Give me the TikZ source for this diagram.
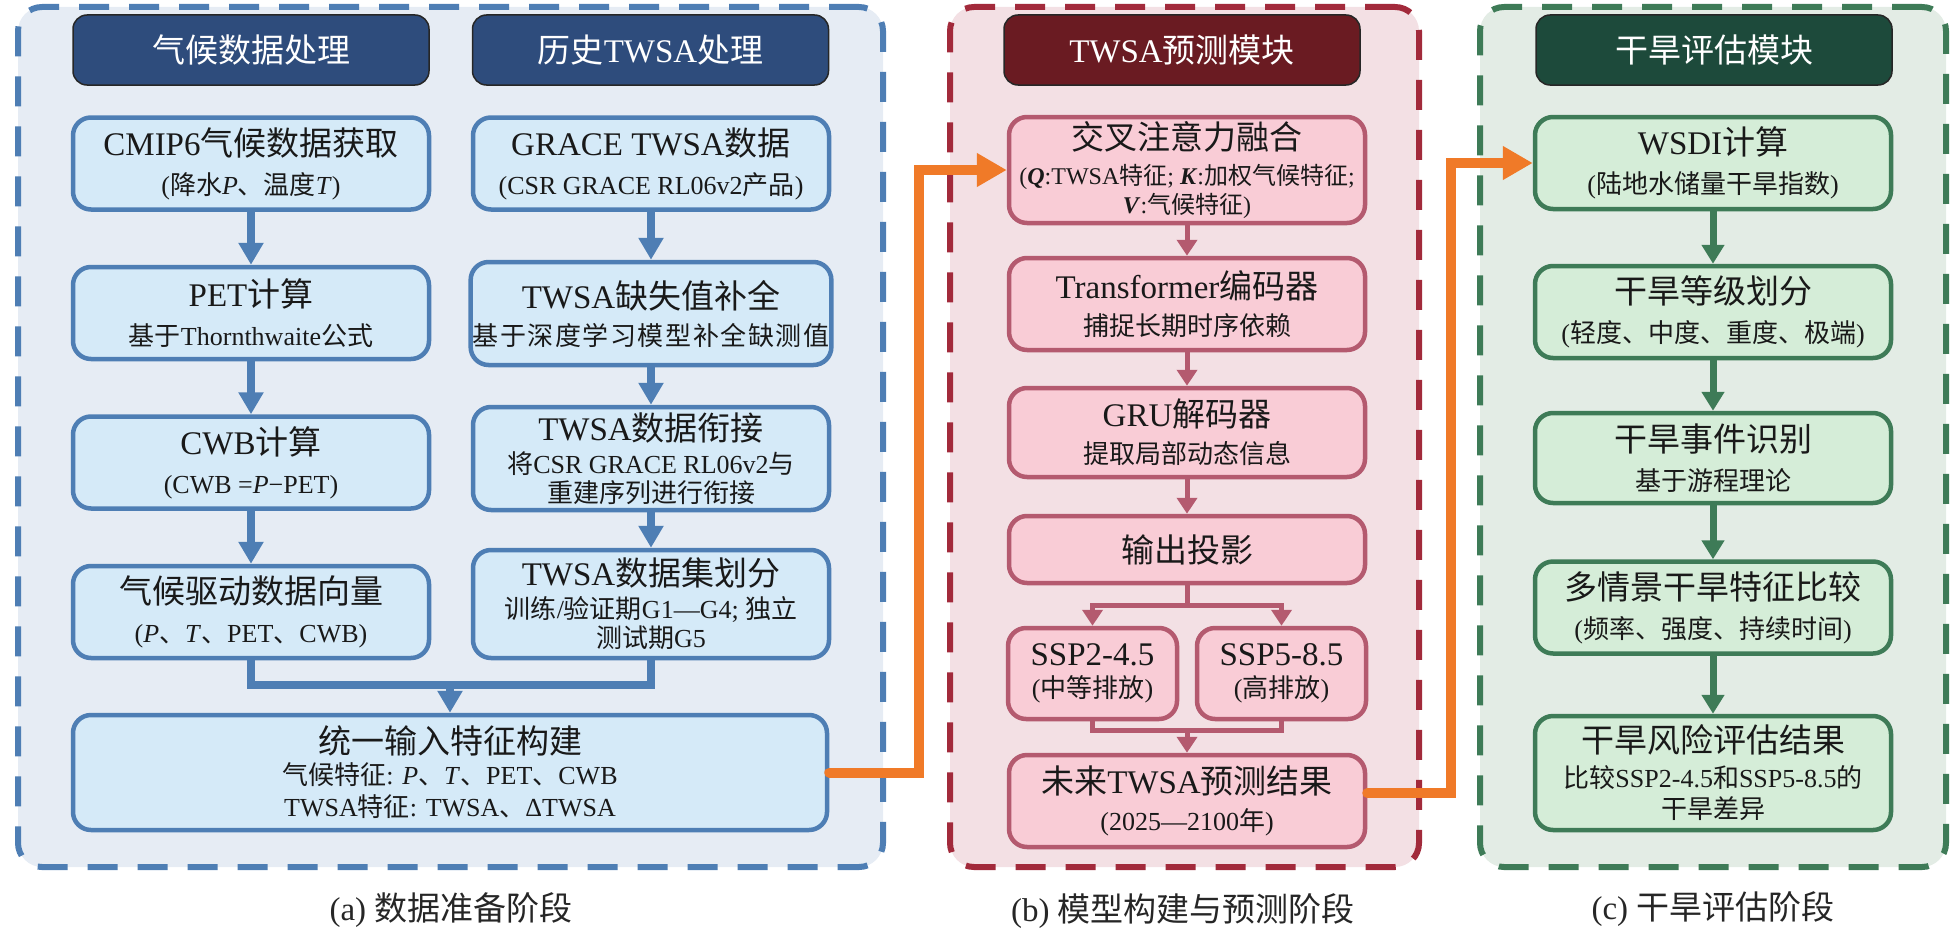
\documentclass[tikz,border=0pt]{standalone}
\usepackage{fontspec}
\setmainfont{Liberation Serif}
\newfontfamily\cjkfont{Noto Sans CJK SC}
\newfontfamily\cjkwide{Noto Sans CJK SC}[LetterSpace=6]
\usetikzlibrary{shapes,arrows.meta,positioning,calc}
\usepackage{xcolor}

\newcommand\zh[1]{{\cjkfont #1}}

\definecolor{aedge}{HTML}{4E7EB4}
\definecolor{abg}{HTML}{E6ECF4}
\definecolor{ahead}{HTML}{2E4C7C}
\definecolor{afill}{HTML}{D5EAF8}
\definecolor{bedge}{HTML}{A22A3B}
\definecolor{bbg}{HTML}{F3E0E4}
\definecolor{bhead}{HTML}{6A1B22}
\definecolor{bfill}{HTML}{F9CCD6}
\definecolor{bline}{HTML}{B45A6F}
\definecolor{cedge}{HTML}{3E7B57}
\definecolor{cbg}{HTML}{E3ECE5}
\definecolor{chead}{HTML}{1D4A3B}
\definecolor{cfill}{HTML}{D5EDD8}
\definecolor{orng}{HTML}{F07A28}

\newcommand\hdrfont{\fontsize{33}{36}\selectfont}
\newcommand\ttlfont{\fontsize{33}{36}\selectfont}
\newcommand\subfont{\fontsize{26}{29}\selectfont}
\newcommand\smallsub{\fontsize{24}{26}\selectfont}
\newcommand\capfont{\fontsize{33}{36}\selectfont}

\tikzset{
    panel/.style={rectangle, draw=#1, line width=6pt, dash pattern=on 30pt off 20pt, rounded corners=24pt},
    hdr/.style={rectangle, draw=black!85, fill=#1, line width=1.5pt, rounded corners=14pt, minimum width=356pt, minimum height=70pt, text=white, font=\hdrfont},
    box/.style={rectangle, draw=#1, line width=4.5pt, rounded corners=18pt, align=center, text=black!90, font=\subfont, minimum width=356pt, minimum height=92pt, inner sep=2pt},
    abox/.style={box=aedge, fill=afill},
    bbox/.style={box=bline, fill=bfill},
    cbox/.style={box=cedge, fill=cfill},
    aline/.style={draw=aedge, line width=8pt, -{Triangle[width=24pt,length=22pt]}},
    abar/.style={draw=aedge, line width=8pt},
    bline/.style={draw=bline, line width=5pt, -{Triangle[width=20pt,length=16pt]}},
    bbar/.style={draw=bline, line width=5pt},
    cline/.style={draw=cedge, line width=7pt, -{Triangle[width=22pt,length=19pt]}},
    oline/.style={draw=orng, line width=10pt, line cap=round, -{Triangle[width=32pt,length=30pt]}},
    stagecap/.style={text=black!85, font=\capfont}
}

\begin{document}
\begin{tikzpicture}[x=1pt, y=-1pt]
    \useasboundingbox (0,0) rectangle (1958,934);

    % stage panels
    \node [panel=aedge, fill=abg, minimum width=865pt, minimum height=860pt] (pa) at (450.5,437) {};
    \node [panel=bedge, fill=bbg, minimum width=469pt, minimum height=860pt] (pb) at (1184.5,437) {};
    \node [panel=cedge, fill=cbg, minimum width=466pt, minimum height=860pt] (pc) at (1713,437) {};

    % (a) climate data
    \node [hdr=ahead] (hclim) at (251,50) {\zh{气候数据处理}};
    \node [abox] (cmip) at (251,163.5) {{\ttlfont CMIP6\zh{气候数据获取}}\\[10pt](\zh{降水}\textit{P}\zh{、温度}\textit{T})};
    \node [abox, below of=cmip, node distance=149.5pt] (pet) {{\ttlfont PET\zh{计算}}\\[10pt]\zh{基于}Thornthwaite\zh{公式}};
    \node [abox, below of=pet, node distance=149.5pt] (cwb) {{\ttlfont CWB\zh{计算}}\\[10pt](CWB =\textit{P}−PET)};
    \node [abox, below of=cwb, node distance=149.5pt] (cvec) {{\ttlfont \zh{气候驱动数据向量}}\\[10pt](\textit{P}\zh{、}\textit{T}\zh{、}PET\zh{、}CWB)};

    % (a) historical TWSA
    \node [hdr=ahead] (htwsa) at (650.5,50) {\zh{历史}TWSA\zh{处理}};
    \node [abox] (grace) at (651,163.5) {{\ttlfont GRACE TWSA\zh{数据}}\\[10pt](CSR GRACE RL06v2\zh{产品})};
    \node [abox, minimum height=103pt, below of=grace, node distance=150pt] (gapfill) {{\ttlfont TWSA\zh{缺失值补全}}\\[8pt]{\cjkwide 基于深度学习模型补全缺测值}};
    \node [abox, minimum height=103pt, below of=gapfill, node distance=145pt] (link) {{\ttlfont TWSA\zh{数据衔接}}\\[4pt]\zh{将}CSR GRACE RL06v2\zh{与}\\\zh{重建序列进行衔接}};
    \node [abox, minimum height=108pt, below of=link, node distance=145.5pt] (split) {{\ttlfont TWSA\zh{数据集划分}}\\[4pt]\zh{训练}/\zh{验证期}G1—G4; \zh{独立}\\\zh{测试期}G5};

    \node [abox, minimum width=754pt, minimum height=115pt] (unify) at (450,772.5) {{\ttlfont \zh{统一输入特征构建}}\\[2pt]\zh{气候特征}: \textit{P}\zh{、}\textit{T}\zh{、}PET\zh{、}CWB\\[3pt]TWSA\zh{特征}: TWSA\zh{、}ΔTWSA};

    % (b) prediction
    \node [hdr=bhead] (hpred) at (1182,50) {TWSA\zh{预测模块}};
    \node [bbox, minimum height=106pt] (cross) at (1187,170) {{\ttlfont \zh{交叉注意力融合}}\\[6pt]{\smallsub (\textbf{\textit{Q}}:TWSA\zh{特征}; \textbf{\textit{K}}:\zh{加权气候特征};}\\{\smallsub\textbf{\textit{V}}:\zh{气候特征})}};
    \node [bbox, below of=cross, node distance=134pt] (trans) {{\ttlfont Transformer\zh{编码器}}\\[8pt]\zh{捕捉长期时序依赖}};
    \node [bbox, minimum height=89pt, below of=trans, node distance=128.5pt] (gru) {{\ttlfont GRU\zh{解码器}}\\[8pt]\zh{提取局部动态信息}};
    \node [bbox, minimum height=67pt, below of=gru, node distance=117pt] (proj) {\ttlfont \zh{输出投影}};
    \node [bbox, minimum width=169pt, minimum height=91pt] (ssp2) at (1092.5,673.5) {{\ttlfont SSP2-4.5}\\[3pt](\zh{中等排放})};
    \node [bbox, minimum width=169pt, minimum height=91pt, right of=ssp2, node distance=189pt] (ssp5) {{\ttlfont SSP5-8.5}\\[3pt](\zh{高排放})};
    \node [bbox] (future) at (1187,801) {{\ttlfont \zh{未来}TWSA\zh{预测结果}}\\[8pt](2025—2100\zh{年})};

    % (c) drought
    \node [hdr=chead] (hdro) at (1714,50) {\zh{干旱评估模块}};
    \node [cbox] (wsdi) at (1713,163) {{\ttlfont WSDI\zh{计算}}\\[10pt](\zh{陆地水储量干旱指数})};
    \node [cbox, below of=wsdi, node distance=149pt] (grade) {{\ttlfont \zh{干旱等级划分}}\\[10pt](\zh{轻度、中度、重度、极端})};
    \node [cbox, minimum height=90pt, below of=grade, node distance=146pt] (event) {{\ttlfont \zh{干旱事件识别}}\\[10pt]\zh{基于游程理论}};
    \node [cbox, below of=event, node distance=149.5pt] (multi) {{\ttlfont \zh{多情景干旱特征比较}}\\[10pt](\zh{频率、强度、持续时间})};
    \node [cbox, minimum height=114pt, below of=multi, node distance=165.5pt] (risk) {{\ttlfont \zh{干旱风险评估结果}}\\[6pt]\zh{比较}SSP2-4.5\zh{和}SSP5-8.5\zh{的}\\[2pt]\zh{干旱差异}};

    % captions
    \node [stagecap] (capa) at (451,910) {(a) \zh{数据准备阶段}};
    \node [stagecap] (capb) at (1183,911) {(b) \zh{模型构建与预测阶段}};
    \node [stagecap] (capc) at (1713,909) {(c) \zh{干旱评估阶段}};

    % connectors
    \path [aline] (cmip) -- (pet);
    \path [aline] (pet) -- (cwb);
    \path [aline] (cwb) -- (cvec);
    \path [aline] (grace) -- (gapfill);
    \path [aline] (gapfill) -- (link);
    \path [aline] (link) -- (split);
    \coordinate (amerge) at ($(unify.north)+(0,-28)$);
    \path [abar] (cvec.south) |- (amerge) -| (split.south);
    \path [aline] (amerge) -- (unify.north);

    \path [bline] (cross) -- (trans);
    \path [bline] (trans) -- (gru);
    \path [bline] (gru) -- (proj);
    \coordinate (bsplit) at ($(proj.south)+(0,20)$);
    \path [bbar] (proj.south) -- (bsplit);
    \path [bline] (bsplit) -| (ssp2.north);
    \path [bline] (bsplit) -| (ssp5.north);
    \coordinate (bmerge) at ($(future.north)+(0,-22)$);
    \path [bbar] (ssp2.south) |- (bmerge) -| (ssp5.south);
    \path [bline] (bmerge) -- (future.north);

    \path [cline] (wsdi) -- (grade);
    \path [cline] (grade) -- (event);
    \path [cline] (event) -- (multi);
    \path [cline] (multi) -- (risk);

    \path [oline] (unify.east) -- ++(90,0) |- (cross.west);
    \path [oline] ([yshift=8pt]future.east) -- ++(84,0) |- (wsdi.west);
\end{tikzpicture}
\end{document}
